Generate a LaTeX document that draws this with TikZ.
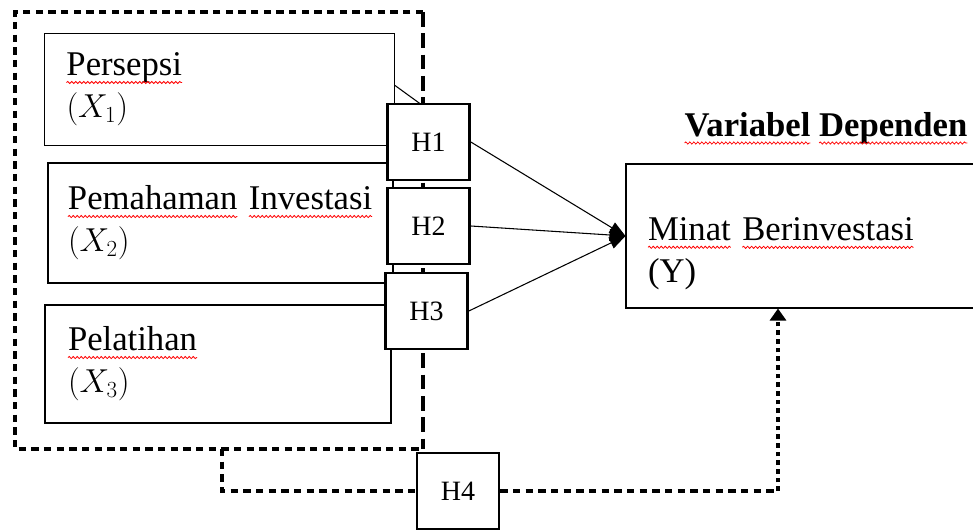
\documentclass[tikz,border=0pt]{standalone}
\usepackage{fontspec}
\setmainfont{Liberation Serif}
\usetikzlibrary{arrows.meta,decorations.pathmorphing}
\newcommand{\spell}[1]{\tikz[baseline=(sw.base)]{%
  \node[inner sep=0pt,outer sep=0pt,draw=none,fill=none,text width=,minimum width=0pt,minimum height=0pt] (sw) {#1};%
  \draw[overlay,red,line width=0.6pt,solid,decorate,decoration={snake,amplitude=0.8pt,segment length=3pt}]
    ([yshift=-5pt]sw.base west) -- ([yshift=-5pt]sw.base east);}}

\begin{document}
\begin{tikzpicture}[x=0.75pt,y=-0.75pt,
  varbox/.style={draw,line width=0.8pt,align=left,font=\fontsize{26}{31.5}\selectfont},
  hbox/.style={draw,line width=2pt,fill=white,minimum width=61.5pt,minimum height=57pt,inner sep=0pt,font=\fontsize{21}{25}\selectfont},
  dotline/.style={line width=2.6pt,dash pattern=on 5.5pt off 4pt},
  finedot/.style={line width=2.6pt,dash pattern=on 3.5pt off 3pt},
  boldline/.style={line width=3pt,dash pattern=on 11pt off 5pt},
  arr/.style={line width=0.8pt,-{Triangle[length=12pt,width=9pt]}}]
\useasboundingbox (0,0) rectangle (973,531);
%outer frame
  \coordinate (fnw) at (15,12);
  \coordinate (fne) at (423,12);
  \coordinate (fse) at (423,449);
  \coordinate (fsw) at (15,449);
  \draw[dotline] (fne) -- (fnw) -- (fsw) -- (fse);
  \draw[boldline] (fne) -- (fse);
%independent variables
  \node[varbox,text width=229.5pt,inner xsep=16.5pt,minimum height=84pt] (persepsi) at (219.5,89.5)
    {\spell{Persepsi}\\$(X_1)$};
  \node[varbox,text width=228.75pt,inner xsep=15pt,minimum height=90pt] (pemahaman) at (220.5,223)
    {\spell{Pemahaman} \spell{Investasi}\\$(X_2)$};
  \node[varbox,text width=225pt,inner xsep=17.25pt,minimum height=88.5pt] (pelatihan) at (218,364)
    {\spell{Pelatihan}\\$(X_3)$};
%dependent variable
  \node[font=\fontsize{26}{31.5}\selectfont\bfseries] (title) at (826,128)
    {\spell{Variabel} \spell{Dependen}};
  \node[varbox,text width=229.5pt,inner xsep=16.5pt,minimum height=108pt] (minat) at (801,236)
    {\rule{0pt}{44pt}\spell{Minat} \spell{Berinvestasi}\\(Y)};
%hypotheses
  \draw[line width=0.8pt] ([yshift=3pt]persepsi.east) -- ([xshift=-6pt]428.5,104);
  \node[hbox] (h1) at (428.5,142) {H1};
  \node[hbox] (h2) at (428.5,226) {H2};
  \node[hbox] (h3) at (426.5,311) {H3};
  \node[hbox] (h4) at (458,491) {H4};
  \draw[arr] (h1.east) -- (minat.west);
  \draw[arr] (h2.east) -- (minat.west);
  \draw[arr] (h3.east) -- (minat.west);
%simultaneous effect
  \coordinate (h4from) at (222,449);
  \coordinate (h4turn) at (778,491);
  \draw[dotline] (h4from) |- (h4.west);
  \draw[dotline] (h4.east) -- (h4turn);
  \draw[finedot,-{Triangle[length=9pt,width=12pt]}] (h4turn) -- (h4turn |- minat.south);
\end{tikzpicture}
\end{document}
